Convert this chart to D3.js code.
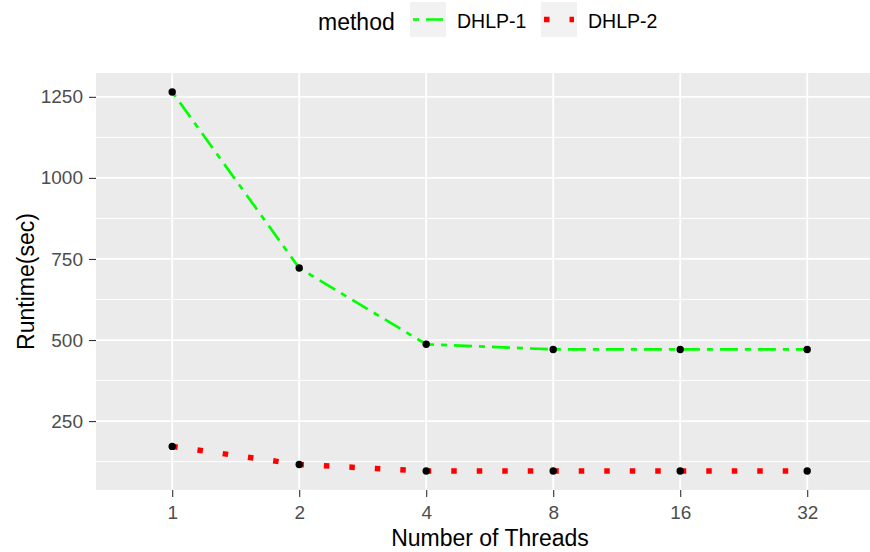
<!DOCTYPE html>
<html lang="en">
<head>
  <meta charset="UTF-8">
  <title>runtime</title>
  <script src="https://cdn.jsdelivr.net/npm/d3@7"></script>
  <style>
    body { margin: 0; background: #fff; }
    svg { display: block; font-family: "Liberation Sans", Arial, sans-serif; }
  </style>
</head>
<body>
  <script>
    var threads = ['1', '2', '4', '8', '16', '32'];
    var dhlp1 = [1265, 722, 487, 471, 471, 471];
    var dhlp2 = [172, 116, 96, 96, 96, 96];
    var yTicks = [250, 500, 750, 1000, 1250];
    var yMinor = [125, 375, 625, 875, 1125];

    var w = 870, h = 552;
    var pLeft = 96, pTop = 73, pBottom = 490;
    var step = 127;

    var svg = d3.select('body').append('svg')
      .attr('width', w)
      .attr('height', h);

    // discrete x with ggplot's 0.6 expansion each side
    var x = d3.scalePoint()
      .domain(threads)
      .range([pLeft + 0.6 * step, pLeft + 5.6 * step]);
    var pRight = pLeft + 6.2 * step;

    var y = d3.scaleLinear()
      .domain([37.5, 1323.5])
      .range([pBottom, pTop]);

    svg.append('rect')
      .attr('x', pLeft).attr('y', pTop)
      .attr('width', pRight - pLeft).attr('height', pBottom - pTop)
      .attr('fill', '#ebebeb');

    svg.selectAll('.minor').data(yMinor).enter().append('line')
      .attr('x1', pLeft).attr('x2', pRight)
      .attr('y1', function (d) { return y(d); })
      .attr('y2', function (d) { return y(d); })
      .attr('stroke', '#fff').attr('stroke-width', 1);

    svg.selectAll('.major').data(yTicks).enter().append('line')
      .attr('x1', pLeft).attr('x2', pRight)
      .attr('y1', function (d) { return y(d); })
      .attr('y2', function (d) { return y(d); })
      .attr('stroke', '#fff').attr('stroke-width', 1.8);

    svg.selectAll('.vgrid').data(threads).enter().append('line')
      .attr('y1', pTop).attr('y2', pBottom)
      .attr('x1', function (d) { return x(d); })
      .attr('x2', function (d) { return x(d); })
      .attr('stroke', '#fff').attr('stroke-width', 1.8);

    // axes
    var yAxis = svg.append('g')
      .attr('transform', 'translate(' + pLeft + ',0)')
      .call(d3.axisLeft(y).tickValues(yTicks).tickFormat(d3.format('d'))
        .tickSize(7).tickPadding(6));
    var xAxis = svg.append('g')
      .attr('transform', 'translate(0,' + pBottom + ')')
      .call(d3.axisBottom(x).tickSize(7).tickPadding(9));
    [xAxis, yAxis].forEach(function (g) {
      g.select('.domain').remove();
      g.selectAll('line').attr('stroke', '#333').attr('stroke-width', 1.1);
      g.selectAll('text')
        .attr('fill', '#4d4d4d')
        .style('font-size', '19px')
        .style('font-family', '"Liberation Sans", Arial, sans-serif');
    });

    var line = d3.line()
      .x(function (d, i) { return x(threads[i]); })
      .y(function (d) { return y(d); });

    svg.append('path')
      .datum(dhlp1)
      .attr('d', line)
      .attr('fill', 'none')
      .attr('stroke', '#00ff00')
      .attr('stroke-width', 2.7)
      .attr('stroke-dasharray', '6,7,18,7');

    svg.append('path')
      .datum(dhlp2)
      .attr('d', line)
      .attr('fill', 'none')
      .attr('stroke', '#ff0000')
      .attr('stroke-width', 5.5)
      .attr('stroke-dasharray', '5.5,20');

    [dhlp1, dhlp2].forEach(function (s) {
      svg.selectAll(null).data(s).enter().append('circle')
        .attr('cx', function (d, i) { return x(threads[i]); })
        .attr('cy', function (d) { return y(d); })
        .attr('r', 3.7)
        .attr('fill', '#000');
    });

    // axis titles
    svg.append('text')
      .attr('x', 490).attr('y', 546)
      .attr('text-anchor', 'middle')
      .style('font-size', '23px')
      .text('Number of Threads');

    svg.append('text')
      .attr('transform', 'translate(34,' + ((pTop + pBottom) / 2) + ') rotate(-90)')
      .attr('text-anchor', 'middle')
      .style('font-size', '23px')
      .text('Runtime(sec)');

    // legend
    var leg = svg.append('g');
    leg.append('text')
      .attr('x', 318).attr('y', 30)
      .style('font-size', '23px')
      .text('method');

    var keys = [
      { name: 'DHLP-1', x: 410, color: '#00ff00', width: 2.7, dash: '6,7,18,7' },
      { name: 'DHLP-2', x: 541, color: '#ff0000', width: 5.5, dash: '5.5,20' }
    ];
    keys.forEach(function (k) {
      leg.append('rect')
        .attr('x', k.x).attr('y', 2)
        .attr('width', 36).attr('height', 35)
        .attr('fill', '#f2f2f2');
      leg.append('line')
        .attr('x1', k.x + 3).attr('x2', k.x + 33)
        .attr('y1', 19.5).attr('y2', 19.5)
        .attr('stroke', k.color)
        .attr('stroke-width', k.width)
        .attr('stroke-dasharray', k.dash);
      leg.append('text')
        .attr('x', k.x + 47).attr('y', 28)
        .style('font-size', '19.5px')
        .text(k.name);
    });
  </script>
</body>
</html>
